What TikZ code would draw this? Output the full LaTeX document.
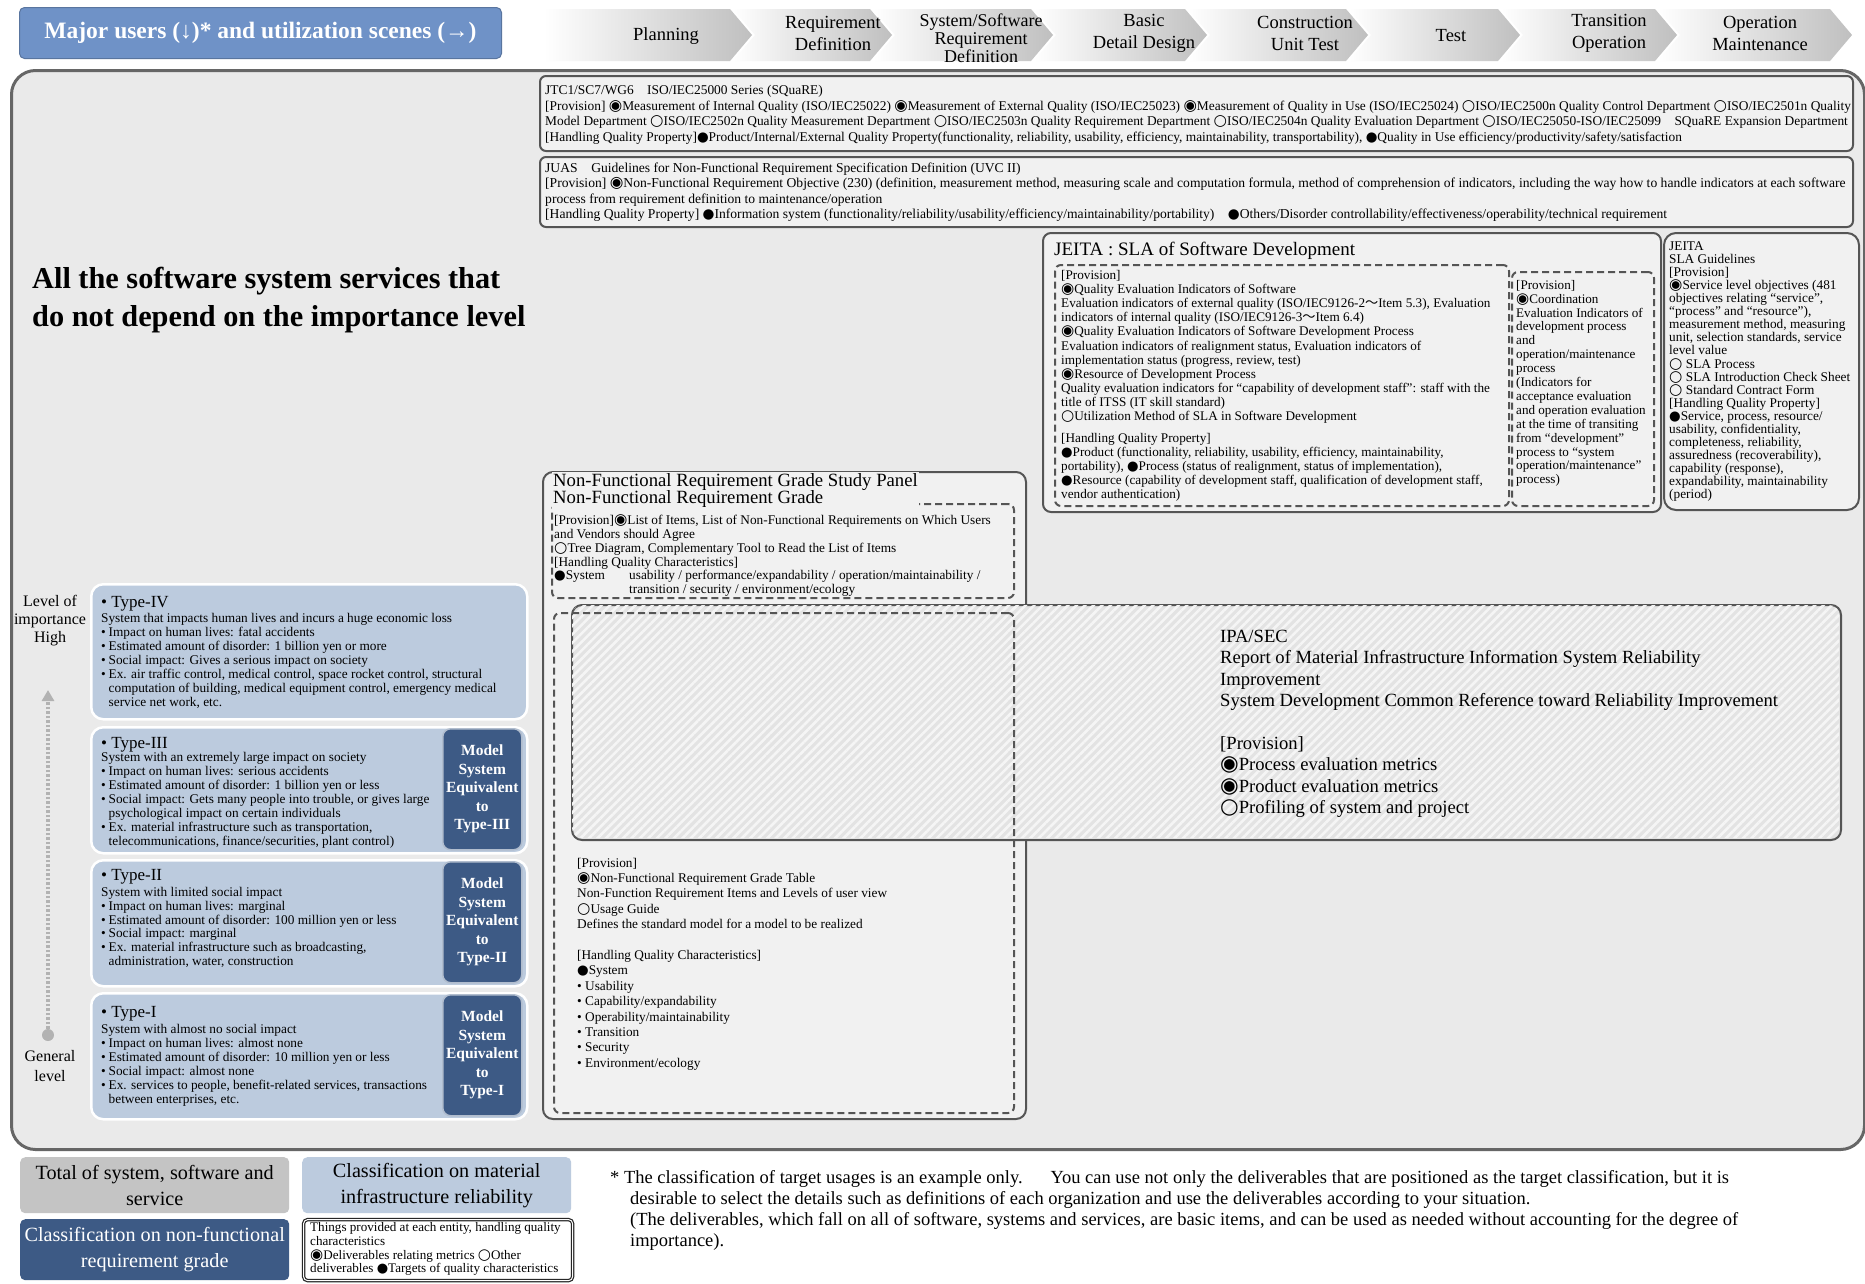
\documentclass[tikz,border=0pt]{standalone}
\usepackage{fontspec}
\setmainfont{Liberation Serif}
\newfontfamily\symfa[Scale=1.15]{DejaVu Sans}
\newfontfamily\symfb[Scale=1.0]{DejaVu Sans}
\newfontfamily\cjkf{Noto Sans CJK JP}
\usetikzlibrary{patterns.meta,arrows.meta}
\definecolor{titleblue}{HTML}{6F92C7}
\definecolor{lightblue}{HTML}{BCCBDE}
\definecolor{darkblue}{HTML}{3D5A85}
\definecolor{mainbg}{HTML}{EAEAEA}
\definecolor{boxbg}{HTML}{F1F1F1}
\definecolor{bordergray}{HTML}{555555}
\definecolor{legendgray}{HTML}{C4C4C4}
\newcommand\fsz[2]{\fontsize{#1}{#2}\selectfont\lineskiplimit=-50pt\lineskip=0pt}
\newcommand\symFE{{\symfa ◉}}
\newcommand\symWC{{\symfa ○}}
\newcommand\symBC{{\symfb ●}}
\newcommand\wtilde{{\cjkf ～}}
\newcommand\tbul{\makebox[7.5pt][l]{•}}
\newcommand\tind{\hspace*{7.5pt}}
\tikzset{
 txt/.style={inner sep=0pt, anchor=north west, align=left},
 panel/.style={draw=bordergray, line width=2pt, fill=boxbg, rounded corners=6pt, anchor=north west, inner sep=0pt},
 dashbox/.style={draw=bordergray, line width=2pt, dash pattern=on 7pt off 4pt, rounded corners=6pt, anchor=north west, inner sep=0pt},
 typebox/.style={draw=white, line width=2.5pt, fill=lightblue, rounded corners=12pt, anchor=north west, inner sep=0pt, minimum width=436pt},
 modelbox/.style={draw=white!60!darkblue, line width=1.5pt, fill=darkblue, rounded corners=8pt, text=white, font=\fsz{15.5}{18.5}\bfseries, align=center, inner sep=0pt, anchor=north west, minimum width=79pt, minimum height=121pt},
 phase/.style={font=\fsz{18.5}{21.4}, align=center, inner sep=0pt},
 legbox/.style={rounded corners=5pt, anchor=north west, inner sep=0pt, minimum width=269pt, align=center, font=\fsz{20.2}{26}},
}
\begin{document}
\begin{tikzpicture}[x=1pt,y=-1pt]
\useasboundingbox (0,0) rectangle (1865,1283);
\fill[white] (0,0) rectangle (1865,1283);

% main background box
\node[draw=gray!80!black, line width=3pt, fill=mainbg, rounded corners=24pt, anchor=north west, minimum width=1853pt, minimum height=1079pt, inner sep=0pt] (main) at (10,69) {};

% header title
\node[fill=titleblue, draw=titleblue!80!black, line width=1pt, rounded corners=5pt, anchor=north west, minimum width=482pt, minimum height=51pt, inner sep=0pt, text=white, font=\fsz{23.5}{26}\bfseries] (hdr) at (19,7) {Major users (↓)* and utilization scenes (→)};

% chevrons
\shade[left color=white, right color=gray!50] (544,9) -- (730,9) -- (752,35) -- (730,61) -- (544,61) -- cycle;
\foreach \a/\b in {730/870, 870/1031, 1031/1185, 1185/1346, 1346/1498, 1498/1655, 1655/1830}{
  \shade[left color=white, right color=gray!50] (\a+3,9) -- (\b,9) -- (\b+22,35) -- (\b,61) -- (\a+3,61) -- (\a+25,35) -- cycle;
}
\node[phase] (ph1) at (666,35.7) {Planning};
\node[phase] (ph2) at (833,33.3) {Requirement\\Definition};
\node[phase, font=\fsz{18}{18}] (ph3) at (981,38) {System/Software\\Requirement\\Definition};
\node[phase] (ph4) at (1144,33.3) {Basic\\Detail Design};
\node[phase] (ph5) at (1305,33.3) {Construction\\Unit Test};
\node[phase] (ph6) at (1451,35.7) {Test};
\node[phase] (ph7) at (1609,33.3) {Transition\\Operation};
\node[phase] (ph8) at (1760,33.3) {Operation\\Maintenance};

% JTC1 box
\node[panel, minimum width=1313pt, minimum height=75pt] (jtcbox) at (539,75) {};
\node[txt, font=\fsz{13.4}{15.5}] (jtctext) at (545,85) {JTC1/SC7/WG6\hspace{1em}ISO/IEC25000 Series (SQuaRE)\\
{[}Provision] \symFE Measurement of Internal Quality (ISO/IEC25022) \symFE Measurement of External Quality (ISO/IEC25023) \symFE Measurement of Quality in Use (ISO/IEC25024) \symWC ISO/IEC2500n Quality Control Department \symWC ISO/IEC2501n Quality\\
Model Department \symWC ISO/IEC2502n Quality Measurement Department \symWC ISO/IEC2503n Quality Requirement Department \symWC ISO/IEC2504n Quality Evaluation Department \symWC ISO/IEC25050-ISO/IEC25099\hspace{1em}SQuaRE Expansion Department\\
{[}Handling Quality Property]\symBC Product/Internal/External Quality Property(functionality, reliability, usability, efficiency, maintainability, transportability), \symBC Quality in Use efficiency/productivity/safety/satisfaction};

% JUAS box
\node[panel, minimum width=1313pt, minimum height=70pt] (juasbox) at (539,156) {};
\node[txt, font=\fsz{13.6}{15.5}] (juastext) at (545,162.6) {JUAS\hspace{1em}Guidelines for Non-Functional Requirement Specification Definition (UVC II)\\
{[}Provision] \symFE Non-Functional Requirement Objective (230) (definition, measurement method, measuring scale and computation formula, method of comprehension of indicators, including the way how to handle indicators at each software\\
process from requirement definition to maintenance/operation\\
{[}Handling Quality Property] \symBC Information system (functionality/reliability/usability/efficiency/maintainability/portability)\hspace{1em}\symBC Others/Disorder controllability/effectiveness/operability/technical requirement};

% JEITA SLA of Software Development
\node[panel, rounded corners=8pt, minimum width=618pt, minimum height=279pt] (jeitabox) at (1042,232) {};
\node[txt, font=\fsz{19}{22}] (jeitatitle) at (1054,241.5) {JEITA : SLA of Software Development};
\node[dashbox, minimum width=454pt, minimum height=241pt] (jeitaL) at (1054,264) {};
\node[dashbox, minimum width=142pt, minimum height=234pt] (jeitaR) at (1511,271) {};
\node[txt, font=\fsz{13.2}{14.15}] (jeitaLtext) at (1061,270) {{[}Provision]\\
\symFE Quality Evaluation Indicators of Software\\
Evaluation indicators of external quality (ISO/IEC9126-2\wtilde Item 5.3), Evaluation\\
indicators of internal quality (ISO/IEC9126-3\wtilde Item 6.4)\\
\symFE Quality Evaluation Indicators of Software Development Process\\
Evaluation indicators of realignment status, Evaluation indicators of\\
implementation status (progress, review, test)\\
\symFE Resource of Development Process\\
Quality evaluation indicators for “capability of development staff”: staff with the\\
title of ITSS (IT skill standard)\\
\symWC Utilization Method of SLA in Software Development\\[7pt]
{[}Handling Quality Property]\\
\symBC Product (functionality, reliability, usability, efficiency, maintainability,\\
portability), \symBC Process (status of realignment, status of implementation),\\
\symBC Resource (capability of development staff, qualification of development staff,\\
vendor authentication)};
\node[txt, font=\fsz{13.1}{13.9}] (jeitaRtext) at (1516,280) {{[}Provision]\\
\symFE Coordination\\
Evaluation Indicators of\\
development process\\
and\\
operation/maintenance\\
process\\
(Indicators for\\
acceptance evaluation\\
and operation evaluation\\
at the time of transiting\\
from “development”\\
process to “system\\
operation/maintenance”\\
process)};

% JEITA SLA Guidelines
\node[panel, rounded corners=12pt, minimum width=195pt, minimum height=277pt] (guidebox) at (1663,232) {};
\node[txt, font=\fsz{13.3}{13.05}] (guidetext) at (1669,241.6) {JEITA\\
SLA Guidelines\\
{[}Provision]\\
\symFE Service level objectives (481\\
objectives relating “service”,\\
“process” and “resource”),\\
measurement method, measuring\\
unit, selection standards, service\\
level value\\
\symWC{} SLA Process\\
\symWC{} SLA Introduction Check Sheet\\
\symWC{} Standard Contract Form\\
{[}Handling Quality Property]\\
\symBC Service, process, resource/\\
usability, confidentiality,\\
completeness, reliability,\\
assuredness (recoverability),\\
capability (response),\\
expandability, maintainability\\
(period)};

% Big title
\node[txt, font=\fsz{30.3}{38}\bfseries] (alltitle) at (32,267) {All the software system services that\\do not depend on the importance level};

% importance scale
\node[font=\fsz{16}{18}, align=center, anchor=north, inner sep=0pt] (lvl) at (50,595.5) {Level of\\importance\\High};
\node[font=\fsz{16}{20}, align=center, anchor=north, inner sep=0pt] (gen) at (50,1050.5) {General\\level};
\node[circle, fill=gray!60, inner sep=0pt, minimum size=12pt] (dot) at (48,1035) {};
\coordinate (atop) at (48,690);
\draw[gray!60, line width=3.5pt, dash pattern=on 2.5pt off 2pt, -{Triangle[width=12pt,length=11pt]}] (dot) -- (atop);

% Type boxes
\node[typebox, minimum height=135pt] (t4) at (90,583) {};
\node[typebox, minimum height=126pt] (t3) at (90,726) {};
\node[typebox, minimum height=126pt] (t2) at (90,859) {};
\node[typebox, minimum height=126pt] (t1) at (90,992) {};
\node[modelbox] (m3) at (442,728) {Model\\System\\Equivalent\\to\\Type-III};
\node[modelbox] (m2) at (442,861) {Model\\System\\Equivalent\\to\\Type-II};
\node[modelbox] (m1) at (442,994) {Model\\System\\Equivalent\\to\\Type-I};

\node[txt, font=\fsz{17}{17}] (t4h) at (101,595.9) {• Type-IV};
\node[txt, font=\fsz{13.3}{13.9}] (t4b) at (101,613.3) {System that impacts human lives and incurs a huge economic loss\\
\tbul Impact on human lives: fatal accidents\\
\tbul Estimated amount of disorder: 1 billion yen or more\\
\tbul Social impact: Gives a serious impact on society\\
\tbul Ex. air traffic control, medical control, space rocket control, structural\\
\tind computation of building, medical equipment control, emergency medical\\
\tind service net work, etc.};

\node[txt, font=\fsz{17}{17}] (t3h) at (101,737.1) {• Type-III};
\node[txt, font=\fsz{13.3}{13.9}] (t3b) at (101,752.3) {System with an extremely large impact on society\\
\tbul Impact on human lives: serious accidents\\
\tbul Estimated amount of disorder: 1 billion yen or less\\
\tbul Social impact: Gets many people into trouble, or gives large\\
\tind psychological impact on certain individuals\\
\tbul Ex. material infrastructure such as transportation,\\
\tind telecommunications, finance/securities, plant control)};

\node[txt, font=\fsz{17}{17}] (t2h) at (101,869.4) {• Type-II};
\node[txt, font=\fsz{13.3}{13.9}] (t2b) at (101,886.8) {System with limited social impact\\
\tbul Impact on human lives: marginal\\
\tbul Estimated amount of disorder: 100 million yen or less\\
\tbul Social impact: marginal\\
\tbul Ex. material infrastructure such as broadcasting,\\
\tind administration, water, construction};

\node[txt, font=\fsz{17}{17}] (t1h) at (101,1006.1) {• Type-I};
\node[txt, font=\fsz{13.3}{13.9}] (t1b) at (101,1024.5) {System with almost no social impact\\
\tbul Impact on human lives: almost none\\
\tbul Estimated amount of disorder: 10 million yen or less\\
\tbul Social impact: almost none\\
\tbul Ex. services to people, benefit-related services, transactions\\
\tind between enterprises, etc.};

% NFR panel
\node[panel, rounded corners=10pt, minimum width=483pt, minimum height=647pt] (nfr) at (542,471) {};
\node[dashbox, minimum width=462pt, minimum height=94pt] (nfrU) at (551,503) {};
\node[txt, fill=boxbg, inner sep=1.5pt, font=\fsz{18.7}{16.7}] (nfrtitle) at (551.5,472.2) {Non-Functional Requirement Grade Study Panel\\Non-Functional Requirement Grade};
\node[txt, font=\fsz{13.3}{13.8}] (nfrUtext) at (554,514.6) {{[}Provision]\symFE List of Items, List of Non-Functional Requirements on Which Users\\
and Vendors should Agree\\
\symWC Tree Diagram, Complementary Tool to Read the List of Items\\
{[}Handling Quality Characteristics]\\
\makebox[75pt][l]{\symBC System}usability / performance/expandability / operation/maintainability /\\
\hspace*{75pt}transition / security / environment/ecology};

% IPA/SEC hatched box
\node[draw=bordergray, line width=2pt, rounded corners=10pt, fill=gray!22, anchor=north west, inner sep=0pt, minimum width=1269pt, minimum height=235pt] (ipa) at (571,604) {};
\fill[pattern={Lines[angle=45,distance=6pt,line width=2.6pt]}, pattern color=white!92!gray, rounded corners=10pt] (572,605) rectangle (1839,838);
\node[txt, font=\fsz{18.6}{21.4}] (ipatext) at (1220,630) {IPA/SEC\\
Report of Material Infrastructure Information System Reliability\\
Improvement\\
System Development Common Reference toward Reliability Improvement\\[21.4pt]
{[}Provision]\\
\symFE Process evaluation metrics\\
\symFE Product evaluation metrics\\
\symWC Profiling of system and project};

% NFR lower dashed box
\node[dashbox, minimum width=460pt, minimum height=500pt] (nfrL) at (553,612) {};
\node[txt, font=\fsz{13.3}{15.4}] (nfrLtext) at (577,857.6) {{[}Provision]\\
\symFE Non-Functional Requirement Grade Table\\
Non-Function Requirement Items and Levels of user view\\
\symWC Usage Guide\\
Defines the standard model for a model to be realized\\[15.4pt]
{[}Handling Quality Characteristics]\\
\symBC System\\
• Usability\\
• Capability/expandability\\
• Operability/maintainability\\
• Transition\\
• Security\\
• Environment/ecology};

% legend
\node[legbox, fill=legendgray, minimum height=56pt] (leg1) at (20,1157) {Total of system, software and\\service};
\node[legbox, fill=lightblue, minimum height=56pt] (leg2) at (302,1157) {Classification on material\\infrastructure reliability};
\node[legbox, fill=darkblue, text=white, minimum height=61pt] (leg3) at (20,1219) {Classification on non-functional\\requirement grade};
\node[draw=black!85, line width=1.2pt, double=white, double distance=1pt, fill=white, rounded corners=4pt, anchor=north west, inner sep=0pt, minimum width=269pt, minimum height=61pt] (leg4) at (303,1219) {};
\node[txt, font=\fsz{13.1}{13.9}] (leg4text) at (310,1221.9) {Things provided at each entity, handling quality\\
characteristics\\
\symFE Deliverables relating metrics \symWC Other\\
deliverables \symBC Targets of quality characteristics};

% note
\node[txt, font=\fsz{18.5}{21}] (note) at (610,1170.6) {* The classification of target usages is an example only.\hspace{1.5em}You can use not only the deliverables that are positioned as the target classification, but it is\\
\hspace*{20pt}desirable to select the details such as definitions of each organization and use the deliverables according to your situation.\\
\hspace*{20pt}(The deliverables, which fall on all of software, systems and services, are basic items, and can be used as needed without accounting for the degree of\\
\hspace*{20pt}importance).};
\end{tikzpicture}
\end{document}
